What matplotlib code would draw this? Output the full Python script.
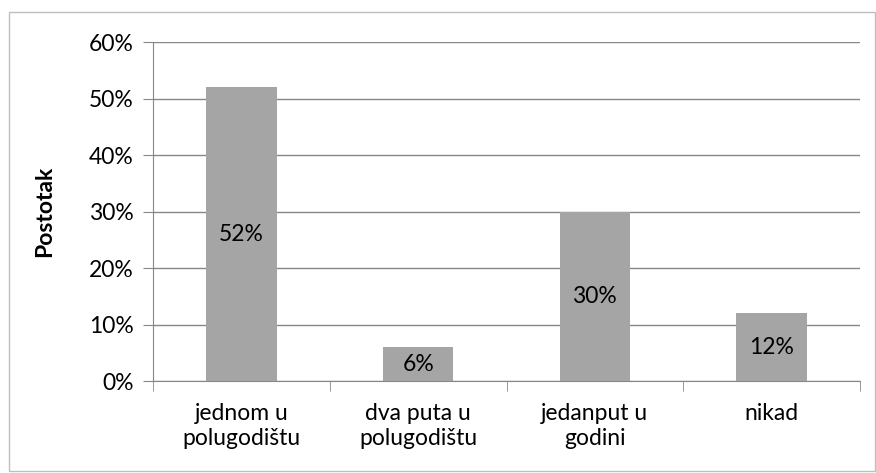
import matplotlib.pyplot as plt
from matplotlib.patches import Rectangle
from matplotlib.ticker import FuncFormatter, FixedLocator

categories = ['jednom u\npolugodištu', 'dva puta u\npolugodištu', 'jedanput u\ngodini', 'nikad']
values = [52, 6, 30, 12]

plt.rcParams['font.family'] = ['Lato', 'DejaVu Sans']

fig = plt.figure(figsize=(8.76, 4.73), dpi=100)
ax = fig.add_axes([0.1747, 0.1945, 0.9817 - 0.1747, 0.9112 - 0.1945])

# outer chart border
fig.patches.append(Rectangle((9 / 876, 2 / 473), 866 / 876, 459 / 473,
                             transform=fig.transFigure, fill=False,
                             edgecolor='#BFBFBF', linewidth=1))

fs = 16.5
x = range(len(values))
bars = ax.bar(x, values, width=0.4, color='#A5A5A5', zorder=3)
for xi, v in zip(x, values):
    ax.text(xi, v / 2, f'{v}%', ha='center', va='center', fontsize=fs, color='black', zorder=4)

ax.set_xlim(-0.5, len(values) - 0.5)
ax.set_ylim(0, 60)
ax.set_yticks(range(0, 61, 10))
ax.yaxis.set_major_formatter(FuncFormatter(lambda v, p: f'{int(v)}%'))
ax.grid(axis='y', color='#878787', linewidth=1, zorder=0)

ax.set_xticks(list(x))
ax.set_xticklabels(categories, fontsize=fs, linespacing=1.25)
ax.xaxis.set_minor_locator(FixedLocator([i - 0.5 for i in range(len(values) + 1)]))
ax.tick_params(axis='x', which='major', length=0, pad=16)
ax.tick_params(axis='x', which='minor', length=7, color='#878787')
ax.tick_params(axis='y', length=7, color='#878787', labelsize=fs, pad=7)

for s in ['top', 'right']:
    ax.spines[s].set_visible(False)
ax.spines['left'].set_color('#878787')
ax.spines['bottom'].set_color('#878787')

ax.set_ylabel('Postotak', fontsize=fs, fontweight='bold', labelpad=24)

fig.savefig('out.png', dpi=100)
